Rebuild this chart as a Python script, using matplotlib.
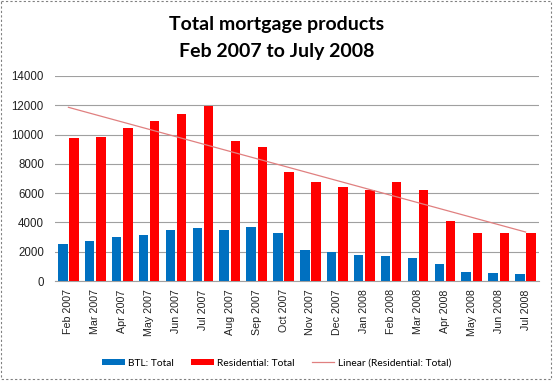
import numpy as np
import matplotlib.pyplot as plt
from matplotlib.patches import Rectangle

plt.rcParams['font.family'] = ['Lato', 'DejaVu Sans']

months = ["Feb 2007", "Mar 2007", "Apr 2007", "May 2007", "Jun 2007", "Jul 2007",
          "Aug 2007", "Sep 2007", "Oct 2007", "Nov 2007", "Dec 2007", "Jan 2008",
          "Feb 2008", "Mar 2008", "Apr 2008", "May 2008", "Jun 2008", "Jul 2008"]
btl = [2500, 2760, 2985, 3140, 3480, 3640, 3480, 3670, 3300, 2100, 1960, 1760,
       1710, 1550, 1140, 590, 550, 460]
residential = [9750, 9860, 10450, 10910, 11410, 11950, 9560, 9180, 7420, 6790,
               6420, 6240, 6760, 6200, 4120, 3300, 3260, 3280]
yticks = [0, 2000, 4000, 6000, 8000, 10000, 12000, 14000]

W, H = 553, 381
fig = plt.figure(figsize=(W / 100, H / 100), dpi=100)
fig.patch.set_facecolor("white")

# dotted background pattern
bg = fig.add_axes([0, 0, 1, 1], zorder=-10)
bg.set_xlim(0, W); bg.set_ylim(H, 0); bg.axis("off")
xs, ys = np.meshgrid(np.arange(3, W, 6), np.arange(3, H, 6))
bg.scatter(xs.ravel(), ys.ravel(), s=0.4, color="#c8c8c8", marker="s", linewidths=0)
bg.add_patch(Rectangle((1, 1), W - 3, H - 3, fill=False, edgecolor="#808080",
                       linestyle=(0, (2, 2)), linewidth=0.8))

left, right, top, bottom = 55, 539, 76, 281
ax = fig.add_axes([left / W, 1 - bottom / H, (right - left) / W, (bottom - top) / H])
ax.set_facecolor("none")

x = np.arange(len(months))
bw = 0.35
b1 = ax.bar(x - bw / 2 - 0.035, btl, width=bw, color="#0070C0", label="BTL: Total", zorder=3)
b2 = ax.bar(x + bw / 2 + 0.035, residential, width=bw, color="#FF0000",
            label="Residential: Total", zorder=3)
coef = np.polyfit(x, residential, 1)
ln, = ax.plot(x, np.polyval(coef, x), color="#E08080", linewidth=0.9,
              label="Linear (Residential: Total)", zorder=4)

tickfont = ['Liberation Sans', 'DejaVu Sans']
ax.set_xlim(-0.5, len(months) - 0.5)
ax.set_ylim(0, 14000)
ax.set_yticks(yticks)
ax.set_yticklabels([str(v) for v in yticks], fontsize=8.3, color="#222222", family=tickfont)
ax.set_xticks(x)
ax.set_xticklabels(months, rotation=90, fontsize=7.7, color="#222222", family=tickfont)
ax.tick_params(axis="x", length=0, pad=6)
ax.tick_params(axis="y", length=0, pad=8)
ax.grid(axis="y", color="#a0a0a0", linewidth=0.8, zorder=0)
for s in ["top", "right", "left"]:
    ax.spines[s].set_visible(False)
ax.spines["bottom"].set_color("#a0a0a0")

fig.text(0.5, 1 - 38 / H, "Total mortgage products\nFeb 2007 to July 2008",
         ha="center", va="center", fontsize=14, fontweight="bold", linespacing=1.65)

fig.legend([b1, b2, ln], [b1.get_label(), b2.get_label(), ln.get_label()],
           loc="center", bbox_to_anchor=(0.5, 1 - 363 / H),
           ncol=3, frameon=False, fontsize=7.4, handlelength=2.2, handleheight=0.6,
           columnspacing=1.7, handletextpad=0.3)

fig.savefig("out.png", dpi=100)
